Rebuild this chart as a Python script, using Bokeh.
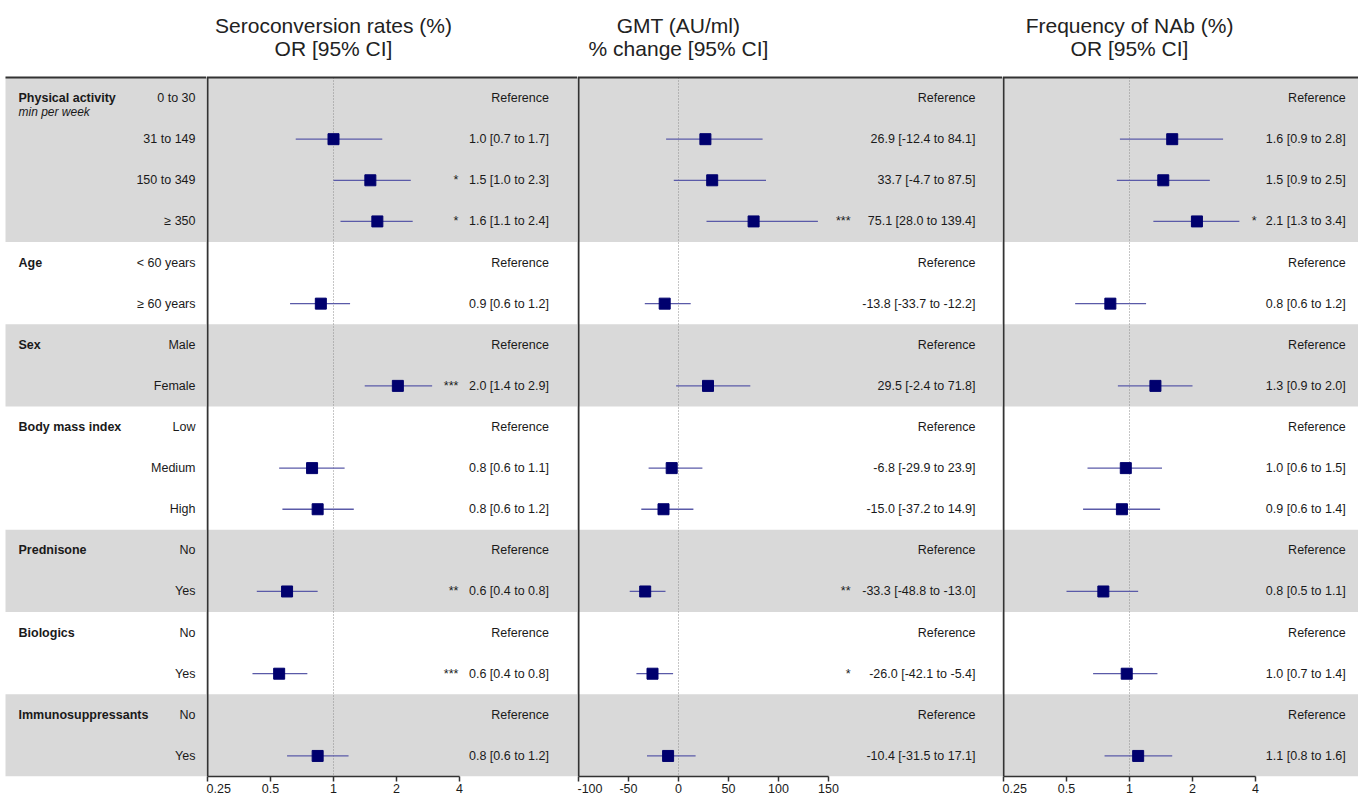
import math
from bokeh.plotting import figure
from bokeh.models import Range1d, ColumnDataSource, FixedTicker
from bokeh.layouts import row
from bokeh.core.properties import value
from bokeh.embed import file_html
from bokeh.resources import INLINE

nan = float("nan")

# ---------------- data ----------------
group_names = ["Physical activity", "Age", "Sex", "Body mass index",
               "Prednisone", "Biologics", "Immunosuppressants"]
group_sizes = [4, 2, 2, 3, 2, 2, 2]
group_note = "min per week"
levels = ["0 to 30", "31 to 149", "150 to 349", "≥ 350",
          "< 60 years", "≥ 60 years", "Male", "Female",
          "Low", "Medium", "High", "No", "Yes", "No", "Yes", "No", "Yes"]

sero_est = [nan, 1.0, 1.5, 1.62, nan, 0.87, nan, 2.03, nan, 0.79, 0.84, nan, 0.6, nan, 0.55, nan, 0.84]
sero_lo = [nan, 0.66, 1.0, 1.08, nan, 0.62, nan, 1.41, nan, 0.55, 0.57, nan, 0.43, nan, 0.41, nan, 0.6]
sero_hi = [nan, 1.71, 2.34, 2.39, nan, 1.2, nan, 2.96, nan, 1.13, 1.25, nan, 0.84, nan, 0.75, nan, 1.18]
sero_text = ["Reference", "1.0 [0.7 to 1.7]", "1.5 [1.0 to 2.3]", "1.6 [1.1 to 2.4]",
             "Reference", "0.9 [0.6 to 1.2]", "Reference", "2.0 [1.4 to 2.9]",
             "Reference", "0.8 [0.6 to 1.1]", "0.8 [0.6 to 1.2]", "Reference",
             "0.6 [0.4 to 0.8]", "Reference", "0.6 [0.4 to 0.8]", "Reference", "0.8 [0.6 to 1.2]"]
sero_stars = ["", "", "*", "*", "", "", "", "***", "", "", "", "", "**", "", "***", "", ""]

gmt_est = [nan, 26.9, 33.7, 75.1, nan, -13.8, nan, 29.5, nan, -6.8, -15.0, nan, -33.3, nan, -26.0, nan, -10.4]
gmt_lo = [nan, -12.4, -4.7, 28.0, nan, -33.7, nan, -2.4, nan, -29.9, -37.2, nan, -48.8, nan, -42.1, nan, -31.5]
gmt_hi = [nan, 84.1, 87.5, 139.4, nan, 12.2, nan, 71.8, nan, 23.9, 14.9, nan, -13.0, nan, -5.4, nan, 17.1]
gmt_text = ["Reference", "26.9 [-12.4 to 84.1]", "33.7 [-4.7 to 87.5]", "75.1 [28.0 to 139.4]",
            "Reference", "-13.8 [-33.7 to -12.2]", "Reference", "29.5 [-2.4 to 71.8]",
            "Reference", "-6.8 [-29.9 to 23.9]", "-15.0 [-37.2 to 14.9]", "Reference",
            "-33.3 [-48.8 to -13.0]", "Reference", "-26.0 [-42.1 to -5.4]", "Reference",
            "-10.4 [-31.5 to 17.1]"]
gmt_stars = ["", "", "", "***", "", "", "", "", "", "", "", "", "**", "", "*", "", ""]

nab_est = [nan, 1.6, 1.45, 2.1, nan, 0.81, nan, 1.33, nan, 0.96, 0.92, nan, 0.75, nan, 0.97, nan, 1.1]
nab_lo = [nan, 0.9, 0.87, 1.3, nan, 0.55, nan, 0.88, nan, 0.63, 0.6, nan, 0.5, nan, 0.67, nan, 0.76]
nab_hi = [nan, 2.8, 2.42, 3.35, nan, 1.2, nan, 2.0, nan, 1.43, 1.4, nan, 1.1, nan, 1.36, nan, 1.6]
nab_text = ["Reference", "1.6 [0.9 to 2.8]", "1.5 [0.9 to 2.5]", "2.1 [1.3 to 3.4]",
            "Reference", "0.8 [0.6 to 1.2]", "Reference", "1.3 [0.9 to 2.0]",
            "Reference", "1.0 [0.6 to 1.5]", "0.9 [0.6 to 1.4]", "Reference",
            "0.8 [0.5 to 1.1]", "Reference", "1.0 [0.7 to 1.4]", "Reference", "1.1 [0.8 to 1.6]"]
nab_stars = ["", "", "", "*", "", "", "", "", "", "", "", "", "", "", "", "", ""]

log_ticks = [0.25, 0.5, 1, 2, 4]
log_tick_labels = ["0.25", "0.5", "1", "2", "4"]
gmt_ticks = [-100, -50, 0, 50, 100, 150]
gmt_tick_labels = ["-100", "-50", "0", "50", "100", "150"]

titles = [("Seroconversion rates (%)", "OR [95% CI]"),
          ("GMT (AU/ml)", "% change [95% CI]"),
          ("Frequency of NAb (%)", "OR [95% CI]")]

# ---------------- layout ----------------
FONT = value("Liberation Sans")
H = 798
BOTTOM = 22
FRAME_H = H - BOTTOM
HEADER = 77
N = len(levels)
pitch = (FRAME_H - HEADER) / N
y_top = -0.5 - HEADER / pitch
y_bot = N - 0.5


def ypx(abs_y):
    return y_top + abs_y / pitch


BAND = "#d9d9d9"
DARK = "#333333"
TXT = "#1a1a1a"
NAVY = "#00006e"
CI_COL = "#5a5aa8"
PX_PER_DOUBLING = 63.0
EDGE = 1.0

band_y, band_h = [], []
start = 0
for gi, n in enumerate(group_sizes):
    if gi % 2 == 0:
        band_y.append(start + (n - 1) / 2.0)
        band_h.append(n)
    start += n
group_first_row = [sum(group_sizes[:i]) for i in range(len(group_sizes))]
rows = list(range(N))


def base_fig(width, x_range, x_axis_type="linear"):
    p = figure(width=width, height=H, x_range=x_range,
               y_range=Range1d(y_bot, y_top), x_axis_type=x_axis_type,
               y_axis_location=None, toolbar_location=None,
               output_backend="svg", min_border=0, min_border_bottom=BOTTOM,
               outline_line_color=None, background_fill_color="white",
               border_fill_color="white")
    p.grid.visible = False
    return p


def style_axis(p, ticks, labels, visible=True):
    ax = p.xaxis[0]
    ax.ticker = FixedTicker(ticks=ticks)
    ax.major_label_overrides = {t: l for t, l in zip(ticks, labels)}
    ax.bounds = (ticks[0], ticks[-1])
    ax.minor_tick_line_color = None
    ax.major_tick_in = 0
    ax.major_tick_out = 5
    ax.major_label_standoff = 2
    ax.major_label_text_font = "Liberation Sans"
    ax.major_label_text_font_size = "12.5px"
    if visible:
        ax.axis_line_color = DARK
        ax.axis_line_width = 1.5
        ax.major_tick_line_color = DARK
        ax.major_tick_line_width = 1.5
        ax.major_label_text_color = TXT
    else:
        ax.axis_line_color = None
        ax.major_tick_line_color = None
        ax.major_label_text_color = None


# ---------- label column ----------
LW = 206
lab = base_fig(LW, Range1d(0, LW))
style_axis(lab, [100], ["0"], visible=False)
lab.hbar(y=band_y, height=band_h, left=5, right=LW, color=BAND, line_color=None)
lab.segment(x0=[5], x1=[LW], y0=[-0.5], y1=[-0.5], line_width=2, line_color=DARK)
lab.text(x=[18] * len(group_names), y=group_first_row, text=group_names,
         text_font=FONT, text_font_size="12.5px", text_font_style="bold",
         text_baseline="middle", text_align="left", text_color=TXT)
lab.text(x=[18], y=[0.35], text=[group_note], text_font=FONT,
         text_font_size="12px", text_font_style="italic",
         text_baseline="middle", text_align="left", text_color=TXT)
lab.text(x=[195] * N, y=rows, text=levels, text_font=FONT,
         text_font_size="12.5px", text_baseline="middle", text_align="right",
         text_color=TXT)


def panel(width, kind, est, lo, hi, texts, stars, title, ref, text_x, star_x):
    if kind == "log":
        x0 = log_ticks[0] * 2 ** (-EDGE / PX_PER_DOUBLING)
        x1 = x0 * 2 ** (width / PX_PER_DOUBLING)
        p = base_fig(width, Range1d(x0, x1), "log")
        ticks, tlabels = log_ticks, log_tick_labels
    else:
        x0 = gmt_ticks[0] - EDGE
        x1 = x0 + width
        p = base_fig(width, Range1d(x0, x1))
        ticks, tlabels = gmt_ticks, gmt_tick_labels
    style_axis(p, ticks, tlabels)

    p.hbar(y=band_y, height=band_h, left=x0, right=x1, color=BAND, line_color=None)
    p.segment(x0=[ref], x1=[ref], y0=[-0.5], y1=[y_bot], line_color="#8c8c8c",
              line_width=1, line_dash="1 2")
    p.segment(x0=[x0], x1=[x1], y0=[-0.5], y1=[-0.5], line_width=2, line_color=DARK)
    p.segment(x0=[ticks[0]], x1=[ticks[0]], y0=[-0.5], y1=[y_bot],
              line_width=2, line_color=DARK)

    idx = [i for i in rows if not math.isnan(est[i])]
    src = ColumnDataSource(dict(y=[rows[i] for i in idx], est=[est[i] for i in idx],
                                lo=[lo[i] for i in idx], hi=[hi[i] for i in idx]))
    p.segment(x0="lo", x1="hi", y0="y", y1="y", source=src, line_color=CI_COL,
              line_width=1.3)
    p.scatter(x="est", y="y", source=src, marker="square", size=11,
              fill_color=NAVY, line_color=NAVY)

    p.text(x=[text_x] * N, y=rows, text=texts, text_font=FONT,
           text_font_size="12.5px", text_baseline="middle", text_align="right",
           text_color=TXT)
    sidx = [i for i in rows if stars[i]]
    p.text(x=[star_x] * len(sidx), y=[rows[i] for i in sidx],
           text=[stars[i] for i in sidx], text_font=FONT, text_font_size="12.5px",
           text_baseline="middle", text_align="right", text_color=TXT)

    p.text(x=[ref, ref], y=[ypx(25), ypx(48)], text=list(title), text_font=FONT,
           text_font_size="21px", text_baseline="middle", text_align="center",
           text_color="#222222")
    return p


p1 = panel(371, "log", sero_est, sero_lo, sero_hi, sero_text, sero_stars,
           titles[0], 1, 10.7, 3.95)
p2 = panel(425, "lin", gmt_est, gmt_lo, gmt_hi, gmt_text, gmt_stars,
           titles[1], 0, 297, 172)
p3 = panel(356, "log", nab_est, nab_lo, nab_hi, nab_text, nab_stars,
           titles[2], 1, 10.8, 4.05)

layout = row(lab, p1, p2, p3)
open("out.html", "w").write(file_html(layout, INLINE))
